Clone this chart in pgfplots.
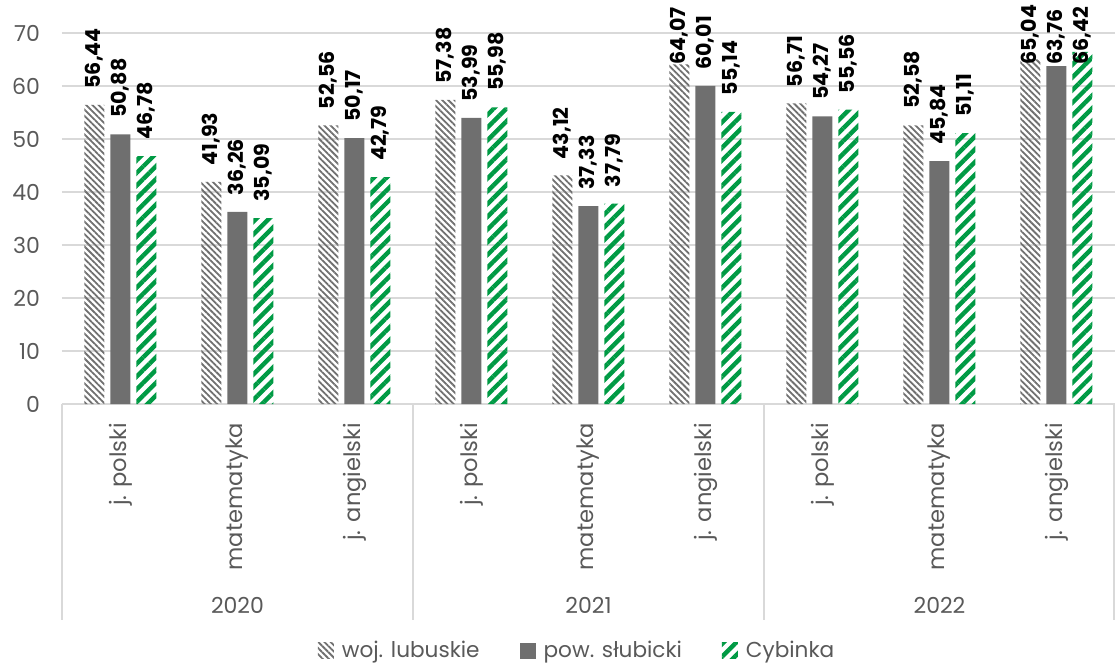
\documentclass[border=0pt]{standalone}
\usepackage{pgfplots}
\pgfplotsset{compat=1.18}
\usepackage{fontspec}
\setmainfont{Poppins}
\usetikzlibrary{patterns.meta}
\definecolor{txt}{HTML}{595959}
\definecolor{gridc}{HTML}{D9D9D9}
\definecolor{bartwo}{HTML}{6F6F6F}
\definecolor{grn}{HTML}{009A44}
\definecolor{stripe}{HTML}{707070}
\begin{document}
\begin{tikzpicture}[x=1pt,y=1pt]
\path[use as bounding box] (-31,-131) rectangle (526.5,202);
\begin{axis}[at={(0,0)}, anchor=south west, scale only axis,
  width=526.5pt, height=185.5pt,
  ymin=0, ymax=70, ytick={0,10,...,70},
  xmin=-0.5, xmax=8.5,
  ybar=3pt, bar width=10pt,
  xtick={0,...,8},
  xticklabels={j. polski, matematyka, j. angielski, j. polski, matematyka, j. angielski, j. polski, matematyka, j. angielski},
  x tick label style={rotate=90, anchor=east, font=\fontsize{11.3}{12}\selectfont, text=txt, xshift=-6pt},
  y tick label style={font=\fontsize{11}{12}\selectfont, text=txt, xshift=-7.5pt},
  /pgf/number format/assume math mode=true,
  axis x line*=bottom, axis y line*=left,
  y axis line style={draw=none},
  x axis line style={draw=gridc, line width=0.75pt},
  major tick length=0pt,
  ymajorgrids, grid style={draw=gridc, line width=0.75pt},
  clip=false,
  visualization depends on={y \as \rawy},
  nodes near coords={\pgfmathprintnumber[fixed,fixed zerofill,precision=2,use comma,assume math mode=true]{\pgfplotspointmeta}},
  nodes near coords style={rotate=90, anchor=west, font=\bfseries\fontsize{10.3}{11}\selectfont, text=black, inner sep=1.5pt,
     xshift={6.5pt-2.65pt*max(0,\rawy-60.9)}},
  area legend,
  legend image code/.code={\path[#1,draw=none] (0pt,-4pt) rectangle (8pt,4pt);},
  legend style={draw=none, at={(0.492,-0.665)}, anchor=center, legend columns=3,
    font=\fontsize{10.8}{12}\selectfont, text=txt,
    nodes={inner xsep=4pt},
    /tikz/every even column/.append style={column sep=16pt}},
]
\addplot[draw=none, pattern={Lines[angle=-45, distance=2.2pt, line width=0.9pt]}, pattern color=stripe]
  coordinates {(0,56.44) (1,41.93) (2,52.56) (3,57.38) (4,43.12) (5,64.07) (6,56.71) (7,52.58) (8,65.04)};
\addplot[draw=none, fill=bartwo]
  coordinates {(0,50.88) (1,36.26) (2,50.17) (3,53.99) (4,37.33) (5,60.01) (6,54.27) (7,45.84) (8,63.76)};
\addplot[draw=none, pattern={Lines[angle=45, distance=4.5pt, line width=2.2pt]}, pattern color=grn]
  coordinates {(0,46.78) (1,35.09) (2,42.79) (3,55.98) (4,37.79) (5,55.14) (6,55.56) (7,51.11) (8,66.42)};
\legend{woj. lubuskie, pow. słubicki, Cybinka}
\draw[gridc, line width=0.75pt] (axis cs:-0.5,0) -- ([yshift=-108pt]axis cs:-0.5,0);
\draw[gridc, line width=0.75pt] (axis cs:2.5,0) -- ([yshift=-108pt]axis cs:2.5,0);
\draw[gridc, line width=0.75pt] (axis cs:5.5,0) -- ([yshift=-108pt]axis cs:5.5,0);
\draw[gridc, line width=0.75pt] ([xshift=-0.4pt]axis cs:8.5,0) -- ([xshift=-0.4pt,yshift=-108pt]axis cs:8.5,0);
\node[text=txt, font=\fontsize{11}{12}\selectfont] at ([yshift=-100.5pt]axis cs:1,0) {2020};
\node[text=txt, font=\fontsize{11}{12}\selectfont] at ([yshift=-100.5pt]axis cs:4,0) {2021};
\node[text=txt, font=\fontsize{11}{12}\selectfont] at ([yshift=-100.5pt]axis cs:7,0) {2022};
\end{axis}
\end{tikzpicture}
\end{document}
